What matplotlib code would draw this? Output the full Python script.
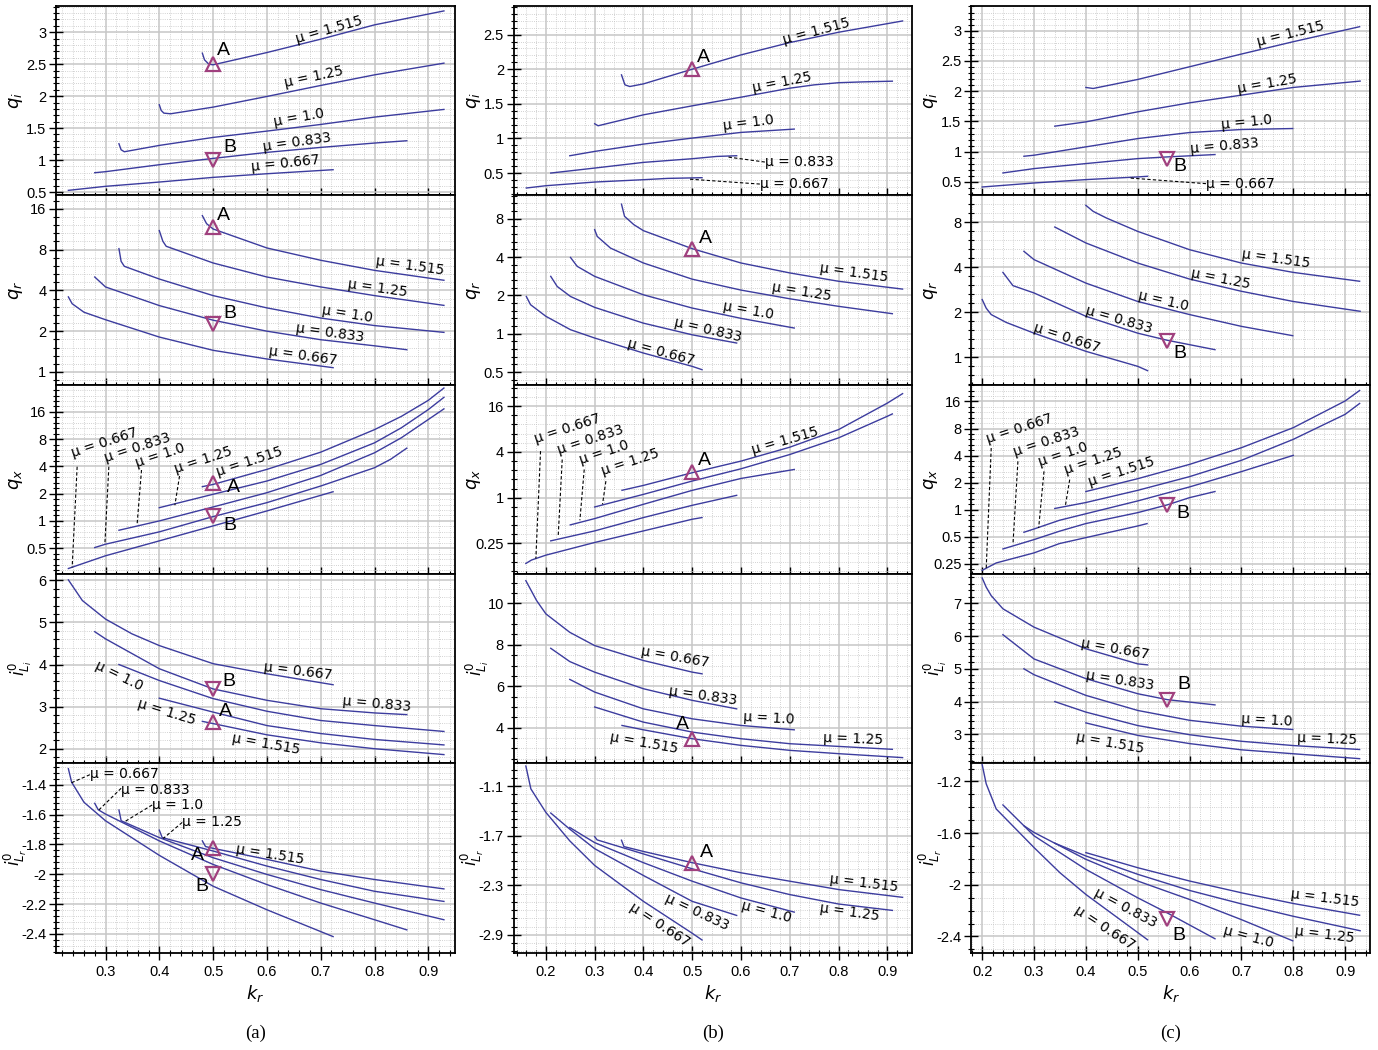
import matplotlib
matplotlib.use('Agg')
import matplotlib.pyplot as plt
from matplotlib.ticker import FixedLocator, FuncFormatter, AutoMinorLocator, MultipleLocator, NullFormatter
import numpy as np

plt.rcParams['axes.unicode_minus'] = False
plt.rcParams['mathtext.fontset'] = 'dejavusans'
plt.rcParams['font.family'] = ['Liberation Sans', 'DejaVu Sans']

LINE = '#3c3c9e'
MARK = '#a0407e'

MU = ['0.667', '0.833', '1.0', '1.25', '1.515']

# ---------------- column (a) ----------------
qi_a = {
    '0.667': ([0.231, 0.3, 0.4, 0.5, 0.6, 0.723], [0.526, 0.589, 0.656, 0.729, 0.786, 0.849]),
    '0.833': ([0.280, 0.3, 0.4, 0.5, 0.6, 0.7, 0.8, 0.860], [0.802, 0.818, 0.927, 1.026, 1.12, 1.198, 1.266, 1.302]),
    '1.0':   ([0.325, 0.329, 0.335, 0.4, 0.5, 0.6, 0.7, 0.8, 0.929], [1.255, 1.161, 1.13, 1.229, 1.354, 1.453, 1.557, 1.672, 1.792]),
    '1.25':  ([0.400, 0.4035, 0.4085, 0.421, 0.5, 0.6, 0.7, 0.8, 0.929], [1.865, 1.776, 1.734, 1.724, 1.828, 1.995, 2.167, 2.333, 2.516]),
    '1.515': ([0.480, 0.484, 0.492, 0.5, 0.6, 0.7, 0.8, 0.929], [2.672, 2.568, 2.5, 2.49, 2.682, 2.891, 3.115, 3.333]),
}
qr_a = {
    '0.667': ([0.231, 0.238, 0.26, 0.3, 0.4, 0.5, 0.6, 0.723], [3.58, 3.19, 2.76, 2.43, 1.81, 1.445, 1.247, 1.076]),
    '0.833': ([0.280, 0.3, 0.4, 0.5, 0.6, 0.7, 0.8, 0.860], [5.02, 4.24, 3.09, 2.41, 2.0, 1.73, 1.56, 1.46]),
    '1.0':   ([0.325, 0.329, 0.335, 0.4, 0.5, 0.6, 0.7, 0.8, 0.929], [8.13, 6.55, 6.02, 4.85, 3.66, 2.97, 2.50, 2.20, 1.96]),
    '1.25':  ([0.400, 0.4066, 0.4128, 0.5, 0.6, 0.7, 0.8, 0.929], [11.04, 9.21, 8.46, 6.37, 5.02, 4.24, 3.66, 3.10]),
    '1.515': ([0.480, 0.4878, 0.5, 0.6, 0.7, 0.8, 0.929], [14.24, 12.43, 11.35, 8.22, 6.67, 5.62, 4.75]),
}
qx_a = {
    '0.667': ([0.231, 0.3, 0.4, 0.5, 0.6, 0.723], [0.298, 0.412, 0.602, 0.881, 1.289, 2.10]),
    '0.833': ([0.280, 0.3, 0.4, 0.5, 0.6, 0.7, 0.8, 0.83, 0.860], [0.508, 0.553, 0.757, 1.116, 1.592, 2.43, 3.87, 4.8, 6.37]),
    '1.0':   ([0.325, 0.4, 0.5, 0.6, 0.7, 0.8, 0.85, 0.9, 0.929], [0.789, 1.0, 1.426, 2.05, 3.18, 5.66, 8.3, 13.2, 17.3]),
    '1.25':  ([0.400, 0.5, 0.6, 0.7, 0.8, 0.85, 0.9, 0.929], [1.40, 1.97, 2.76, 4.21, 7.29, 10.7, 17.0, 23.2]),
    '1.515': ([0.480, 0.5, 0.6, 0.7, 0.8, 0.85, 0.9, 0.929], [2.39, 2.53, 3.71, 5.75, 10.2, 14.3, 21.5, 29.4]),
}
ili_a = {
    '0.667': ([0.231, 0.257, 0.3, 0.349, 0.4, 0.5, 0.6, 0.723], [6.01, 5.52, 5.08, 4.73, 4.45, 4.02, 3.78, 3.52]),
    '0.833': ([0.280, 0.3, 0.4, 0.5, 0.6, 0.7, 0.8, 0.860], [4.78, 4.61, 3.90, 3.42, 3.15, 2.95, 2.85, 2.81]),
    '1.0':   ([0.325, 0.4, 0.5, 0.6, 0.7, 0.8, 0.929], [4.0, 3.62, 3.19, 2.89, 2.67, 2.55, 2.41]),
    '1.25':  ([0.400, 0.5, 0.6, 0.7, 0.8, 0.929], [3.20, 2.87, 2.55, 2.36, 2.22, 2.09]),
    '1.515': ([0.480, 0.6, 0.7, 0.8, 0.929], [2.65, 2.33, 2.14, 2.0, 1.86]),
}
ilr_a = {
    '0.667': ([0.231, 0.237, 0.26, 0.3, 0.4, 0.5, 0.6, 0.723], [-1.292, -1.382, -1.517, -1.641, -1.873, -2.08, -2.238, -2.418]),
    '0.833': ([0.280, 0.2864, 0.3, 0.4, 0.5, 0.6, 0.7, 0.8, 0.860], [-1.524, -1.567, -1.596, -1.776, -1.934, -2.069, -2.193, -2.305, -2.373]),
    '1.0':   ([0.325, 0.3291, 0.4, 0.5, 0.6, 0.7, 0.8, 0.929], [-1.569, -1.641, -1.754, -1.889, -2.001, -2.103, -2.193, -2.305]),
    '1.25':  ([0.400, 0.4054, 0.5, 0.6, 0.7, 0.8, 0.929], [-1.704, -1.754, -1.844, -1.945, -2.035, -2.114, -2.182]),
    '1.515': ([0.480, 0.4859, 0.5, 0.6, 0.7, 0.8, 0.929], [-1.776, -1.814, -1.826, -1.9, -1.979, -2.035, -2.098]),
}

# ---------------- column (b) ----------------
qi_b = {
    '0.667': ([0.160, 0.2, 0.3, 0.4, 0.45, 0.5, 0.520], [0.284, 0.317, 0.370, 0.404, 0.423, 0.430, 0.433]),
    '0.833': ([0.210, 0.3, 0.4, 0.5, 0.55, 0.591], [0.50, 0.572, 0.654, 0.707, 0.74, 0.75]),
    '1.0':   ([0.249, 0.3, 0.4, 0.5, 0.6, 0.709], [0.75, 0.8125, 0.918, 1.005, 1.087, 1.135]),
    '1.25':  ([0.300, 0.307, 0.4, 0.5, 0.6, 0.7, 0.75, 0.8, 0.85, 0.910], [1.212, 1.183, 1.341, 1.471, 1.596, 1.726, 1.774, 1.805, 1.817, 1.827]),
    '1.515': ([0.355, 0.362, 0.372, 0.4, 0.5, 0.6, 0.7, 0.8, 0.931], [1.918, 1.774, 1.75, 1.788, 2.0, 2.207, 2.385, 2.534, 2.697]),
}
qr_b = {
    '0.667': ([0.160, 0.1686, 0.2, 0.2505, 0.3, 0.4, 0.5, 0.520], [1.96, 1.69, 1.37, 1.075, 0.925, 0.705, 0.554, 0.522]),
    '0.833': ([0.210, 0.2232, 0.2505, 0.3, 0.4, 0.5, 0.591], [2.82, 2.35, 1.96, 1.61, 1.21, 0.98, 0.845]),
    '1.0':   ([0.2505, 0.2642, 0.3, 0.4, 0.5, 0.6, 0.709], [3.97, 3.38, 2.82, 2.02, 1.59, 1.32, 1.108]),
    '1.25':  ([0.300, 0.3052, 0.3325, 0.4, 0.5, 0.6, 0.7, 0.8, 0.910], [6.56, 5.81, 4.7, 3.59, 2.68, 2.2, 1.88, 1.64, 1.436]),
    '1.515': ([0.355, 0.3612, 0.3803, 0.4, 0.5, 0.6, 0.7, 0.8, 0.931], [10.4, 8.35, 7.18, 6.44, 4.65, 3.59, 3.0, 2.58, 2.24]),
}
qx_b = {
    '0.667': ([0.159, 0.1706, 0.2, 0.3, 0.4, 0.5, 0.520], [0.136, 0.151, 0.175, 0.257, 0.365, 0.52, 0.547]),
    '0.833': ([0.210, 0.3, 0.4, 0.5, 0.591], [0.27, 0.365, 0.547, 0.793, 1.073]),
    '1.0':   ([0.250, 0.3, 0.4, 0.5, 0.6, 0.709], [0.438, 0.53, 0.818, 1.248, 1.79, 2.35]),
    '1.25':  ([0.300, 0.4, 0.5, 0.6, 0.7, 0.8, 0.9, 0.910], [0.754, 1.105, 1.655, 2.40, 3.70, 6.13, 11.8, 12.65]),
    '1.515': ([0.356, 0.4, 0.5, 0.6, 0.7, 0.8, 0.9, 0.931], [1.25, 1.45, 2.13, 3.03, 4.62, 7.88, 17.6, 23.4]),
}
ili_b = {
    '0.667': ([0.159, 0.181, 0.2, 0.249, 0.3, 0.4, 0.5, 0.520], [11.09, 10.13, 9.49, 8.60, 7.96, 7.24, 6.68, 6.60]),
    '0.833': ([0.210, 0.249, 0.3, 0.4, 0.5, 0.591], [7.83, 7.19, 6.68, 5.88, 5.32, 4.91]),
    '1.0':   ([0.249, 0.3, 0.4, 0.5, 0.6, 0.709], [6.33, 5.72, 4.91, 4.43, 4.11, 3.90]),
    '1.25':  ([0.300, 0.4, 0.5, 0.6, 0.7, 0.8, 0.910], [5.0, 4.27, 3.79, 3.47, 3.23, 3.10, 2.96]),
    '1.515': ([0.356, 0.4, 0.5, 0.6, 0.7, 0.8, 0.931], [4.11, 3.90, 3.47, 3.15, 2.91, 2.75, 2.56]),
}
ilr_b = {
    '0.667': ([0.159, 0.1693, 0.2, 0.249, 0.3, 0.4, 0.5, 0.520], [-0.856, -1.133, -1.417, -1.762, -2.059, -2.494, -2.88, -2.961]),
    '0.833': ([0.210, 0.249, 0.3, 0.4, 0.5, 0.591], [-1.425, -1.62, -1.856, -2.181, -2.494, -2.664]),
    '1.0':   ([0.249, 0.3, 0.4, 0.5, 0.6, 0.709], [-1.6, -1.783, -2.026, -2.25, -2.453, -2.624]),
    '1.25':  ([0.300, 0.305, 0.4, 0.5, 0.6, 0.7, 0.8, 0.910], [-1.71, -1.75, -1.92, -2.1, -2.27, -2.412, -2.526, -2.603]),
    '1.515': ([0.355, 0.360, 0.4, 0.5, 0.6, 0.7, 0.8, 0.931], [-1.754, -1.831, -1.89, -2.026, -2.148, -2.25, -2.351, -2.445]),
}

# ---------------- column (c) ----------------
qi_c = {
    '0.667': ([0.200, 0.3, 0.4, 0.5, 0.519], [0.417, 0.483, 0.539, 0.583, 0.594]),
    '0.833': ([0.240, 0.3, 0.4, 0.5, 0.557, 0.649], [0.649, 0.721, 0.804, 0.886, 0.914, 0.953]),
    '1.0':   ([0.2805, 0.3, 0.4, 0.5, 0.6, 0.7, 0.799], [0.925, 0.942, 1.08, 1.217, 1.317, 1.367, 1.383]),
    '1.25':  ([0.340, 0.4, 0.5, 0.6, 0.7, 0.8, 0.929], [1.422, 1.493, 1.659, 1.808, 1.935, 2.062, 2.167]),
    '1.515': ([0.400, 0.414, 0.5, 0.6, 0.7, 0.8, 0.928], [2.062, 2.045, 2.194, 2.404, 2.614, 2.818, 3.066]),
}
qr_c = {
    '0.667': ([0.200, 0.2077, 0.2174, 0.2464, 0.3, 0.4, 0.5, 0.519], [2.43, 2.13, 1.93, 1.71, 1.45, 1.097, 0.871, 0.815]),
    '0.833': ([0.240, 0.2593, 0.3, 0.4, 0.5, 0.557, 0.649], [3.69, 3.01, 2.69, 1.88, 1.45, 1.30, 1.125]),
    '1.0':   ([0.2805, 0.3, 0.4, 0.5, 0.6, 0.7, 0.799], [5.1, 4.49, 3.13, 2.36, 1.93, 1.61, 1.395]),
    '1.25':  ([0.340, 0.4, 0.5, 0.6, 0.7, 0.8, 0.929], [7.41, 5.8, 4.26, 3.33, 2.76, 2.36, 2.03]),
    '1.515': ([0.400, 0.414, 0.44, 0.5, 0.6, 0.7, 0.8, 0.928], [10.34, 9.43, 8.5, 6.93, 5.23, 4.26, 3.69, 3.22]),
}
qx_c = {
    '0.667': ([0.200, 0.227, 0.3, 0.349, 0.4, 0.5, 0.518], [0.211, 0.255, 0.33, 0.419, 0.488, 0.658, 0.699]),
    '0.833': ([0.240, 0.3, 0.349, 0.4, 0.5, 0.557, 0.6, 0.649], [0.365, 0.464, 0.575, 0.70, 0.926, 1.13, 1.36, 1.59]),
    '1.0':   ([0.2805, 0.3, 0.349, 0.4, 0.5, 0.6, 0.7, 0.8], [0.56, 0.609, 0.761, 0.90, 1.25, 1.79, 2.65, 4.02]),
    '1.25':  ([0.340, 0.4, 0.5, 0.6, 0.7, 0.8, 0.9, 0.928], [1.03, 1.2, 1.64, 2.33, 3.54, 6.06, 11.5, 15.2]),
    '1.515': ([0.400, 0.5, 0.6, 0.7, 0.8, 0.9, 0.928], [1.59, 2.21, 3.19, 4.89, 8.17, 16.2, 21.2]),
}
ili_c = {
    '0.667': ([0.200, 0.2077, 0.2174, 0.24, 0.3, 0.4, 0.5, 0.519], [7.77, 7.49, 7.23, 6.83, 6.27, 5.61, 5.15, 5.12]),
    '0.833': ([0.240, 0.3, 0.4, 0.5, 0.557, 0.649], [6.04, 5.30, 4.70, 4.24, 4.06, 3.90]),
    '1.0':   ([0.2805, 0.3, 0.4, 0.5, 0.6, 0.7, 0.799], [5.0, 4.82, 4.19, 3.73, 3.43, 3.25, 3.15]),
    '1.25':  ([0.340, 0.4, 0.5, 0.6, 0.7, 0.8, 0.928], [4.0, 3.68, 3.27, 2.99, 2.79, 2.66, 2.54]),
    '1.515': ([0.400, 0.5, 0.6, 0.7, 0.8, 0.928], [3.35, 2.97, 2.72, 2.53, 2.41, 2.26]),
}
ilr_c = {
    '0.667': ([0.200, 0.2077, 0.227, 0.3, 0.35, 0.4, 0.519], [-1.07, -1.218, -1.413, -1.712, -1.907, -2.075, -2.426]),
    '0.833': ([0.240, 0.3, 0.4, 0.5, 0.557, 0.649], [-1.382, -1.621, -1.881, -2.101, -2.218, -2.418]),
    '1.0':   ([0.2805, 0.3, 0.4, 0.5, 0.6, 0.7, 0.799], [-1.543, -1.595, -1.803, -1.971, -2.114, -2.27, -2.434]),
    '1.25':  ([0.340, 0.4, 0.5, 0.6, 0.7, 0.8, 0.929], [-1.678, -1.777, -1.919, -2.044, -2.148, -2.244, -2.356]),
    '1.515': ([0.400, 0.5, 0.6, 0.7, 0.8, 0.928], [-1.751, -1.868, -1.971, -2.062, -2.145, -2.236]),
}

# operating points (one value per row: qi, qr, qx, iLi, iLr)
kr_A_a, A_a = 0.5, [2.5, 11.68, 2.64, 2.63, -1.821]
kr_B_a, B_a = 0.5, [1.0, 2.26, 1.135, 3.43, -1.997]
kr_A_b, A_b = 0.5, [2.0, 4.65, 2.17, 3.47, -2.026]
kr_B_c, B_c = 0.557, [0.886, 1.28, 1.12, 4.04, -2.265]

YLABELS = [r'$q_i$', r'$q_r$', r'$q_x$', r'$i^{\mathit{0}}_{L_i}$', r'$i^{\mathit{0}}_{L_r}$']
YLAB_X = [-0.1, -0.1, -0.1, -0.09, -0.103]
CAPTIONS = ['(a)', '(b)', '(c)']

data = [[qi_a, qi_b, qi_c], [qr_a, qr_b, qr_c], [qx_a, qx_b, qx_c],
        [ili_a, ili_b, ili_c], [ilr_a, ilr_b, ilr_c]]

xlims = [(0.208, 0.949), (0.134, 0.951), (0.179, 0.948)]
# (ylim, major ticks, log?, minor subdivisions)
axcfg = [
    [((0.448, 3.41), [0.5, 1, 1.5, 2, 2.5, 3], False, 5),
     ((0.178, 2.913), [0.5, 1, 1.5, 2, 2.5], False, 5),
     ((0.279, 3.408), [0.5, 1, 1.5, 2, 2.5, 3], False, 5)],
    [((0.806, 20.1), [1, 2, 4, 8, 16], True, 5),
     ((0.398, 12.2), [0.5, 1, 2, 4, 8], True, 5),
     ((0.657, 12.06), [1, 2, 4, 8], True, 5)],
    [((0.259, 32), [0.5, 1, 2, 4, 8, 16], True, 5),
     ((0.0988, 30.7), [0.25, 1, 4, 16], True, 5),
     ((0.192, 24.6), [0.25, 0.5, 1, 2, 4, 8, 16], True, 5)],
    [((1.652, 6.15), [2, 3, 4, 5, 6], False, 5),
     ((2.283, 11.41), [4, 6, 8, 10], False, 4),
     ((2.117, 7.89), [3, 4, 5, 6, 7], False, 5)],
    [((-2.526, -1.256), [-2.4, -2.2, -2, -1.8, -1.6, -1.4], False, 5),
     ((-3.115, -0.824), [-2.9, -2.3, -1.7, -1.1], False, 6),
     ((-2.526, -1.06), [-2.4, -2, -1.6, -1.2], False, 4)],
]


def M(s, x, y, rot):
    return ('mu', s, x, y, rot, 'center', 'center')


def ML(s, x, y, rot=18):
    return ('mu', s, x, y, rot, 'left', 'bottom')


def MC(s, x, y):
    return ('mu', s, x, y, 0, 'left', 'center')


def L(x0, y0, x1, y1):
    return ('lead', x0, y0, x1, y1)


def T(s, x, y):
    return ('let', s, x, y)


notes = [
    # row 0: q_i
    [[M('1.515', 0.7153, 3.036, 16), M('1.25', 0.6874, 2.297, 12), M('1.0', 0.6595, 1.656, 10),
      M('0.833', 0.6564, 1.281, 8), M('0.667', 0.6347, 0.943, 6), T('A', 0.52, 2.714), T('B', 0.5306, 1.203)],
     [M('1.515', 0.7546, 2.543, 15), M('1.25', 0.6843, 1.8125, 11), M('1.0', 0.616, 1.221, 7),
      MC('0.833', 0.6488, 0.659), L(0.6488, 0.659, 0.5736, 0.731),
      MC('0.667', 0.6385, 0.341), L(0.6385, 0.341, 0.4917, 0.413), T('A', 0.5224, 2.173)],
     [M('1.515', 0.7954, 2.945, 14), M('1.25', 0.7496, 2.128, 10), M('1.0', 0.7103, 1.482, 6),
      M('0.833', 0.6684, 1.096, 5), MC('0.667', 0.6317, 0.472), L(0.6317, 0.472, 0.4835, 0.566),
      T('B', 0.5814, 0.748)]],
    # row 1: q_r
    [[M('1.515', 0.8659, 6.02, -8), M('1.25', 0.8064, 4.17, -8), M('1.0', 0.7494, 2.69, -9),
      M('0.833', 0.7165, 1.94, -8), M('0.667', 0.6669, 1.32, -8), T('A', 0.52, 14.3), T('B', 0.5306, 2.69)],
     [M('1.515', 0.8311, 3.0, -8), M('1.25', 0.7239, 2.15, -9), M('1.0', 0.6146, 1.525, -10),
      M('0.833', 0.5327, 1.075, -13), M('0.667', 0.435, 0.72, -15), T('A', 0.5272, 5.57)],
     [M('1.515', 0.7664, 4.56, -8), M('1.25', 0.6594, 3.32, -11), M('1.0', 0.5492, 2.39, -13),
      M('0.833', 0.4629, 1.79, -16), M('0.667', 0.3637, 1.35, -18), T('B', 0.5821, 1.06)]],
    # row 2: q_x
    [[ML('0.667', 0.2411, 4.66), L(0.2473, 3.97, 0.238, 0.306),
      ML('0.833', 0.3019, 4.10), L(0.3062, 3.97, 0.2988, 0.553),
      ML('1.0', 0.3607, 3.65), L(0.3669, 3.65, 0.3589, 0.943),
      ML('1.25', 0.432, 3.13), L(0.4376, 3.13, 0.4289, 1.49),
      ML('1.515', 0.5107, 2.88), T('A', 0.5386, 2.33), T('B', 0.5312, 0.881)],
     [ML('0.667', 0.1809, 4.76), L(0.1891, 4.1, 0.1795, 0.158),
      ML('0.833', 0.2287, 3.45), L(0.2335, 3.18, 0.2253, 0.314),
      ML('1.0', 0.2731, 2.55), L(0.2786, 2.35, 0.2697, 0.504),
      ML('1.25', 0.3189, 1.79), L(0.323, 1.65, 0.3161, 0.818),
      M('1.515', 0.6911, 5.54, 16), T('A', 0.5258, 3.12)],
     [ML('0.667', 0.2122, 5.15), L(0.2174, 4.85, 0.2077, 0.219),
      ML('0.833', 0.2644, 3.66), L(0.2689, 3.45, 0.2593, 0.408),
      ML('1.0', 0.314, 2.83), L(0.3192, 2.67, 0.3089, 0.625),
      ML('1.25', 0.3643, 2.31), L(0.3688, 2.16, 0.3604, 1.1),
      ML('1.515', 0.4107, 1.70), T('B', 0.5872, 0.903)]],
    # row 3: i_Li
    [[M('0.667', 0.6576, 3.84, -7), M('0.833', 0.8039, 3.07, -5), M('1.0', 0.326, 3.72, -26),
      M('1.25', 0.4128, 2.87, -17), M('1.515', 0.5975, 2.12, -10), T('A', 0.5231, 2.89), T('B', 0.5293, 3.60)],
     [M('0.667', 0.4657, 7.40, -10), M('0.833', 0.5224, 5.56, -8), M('1.0', 0.6577, 4.43, -3),
      M('1.25', 0.8298, 3.44, -2), M('1.515', 0.4022, 3.26, -10), T('A', 0.48, 4.14)],
     [M('0.667', 0.4558, 5.60, -10), M('0.833', 0.4661, 4.64, -9), M('1.0', 0.7496, 3.44, -3),
      M('1.25', 0.865, 2.85, -2), M('1.515', 0.4474, 2.75, -10), T('B', 0.5892, 4.52)]],
    # row 4: i_Lr
    [[MC('0.667', 0.2709, -1.326), L(0.2709, -1.332, 0.2368, -1.386),
      MC('0.833', 0.3291, -1.432), L(0.3291, -1.423, 0.2864, -1.573),
      MC('1.0', 0.3868, -1.537), L(0.3868, -1.535, 0.3353, -1.648),
      MC('1.25', 0.4426, -1.65), L(0.4426, -1.652, 0.4072, -1.76),
      M('1.515', 0.6056, -1.866, -9), T('A', 0.4705, -1.877), T('B', 0.4785, -2.08)],
     [M('1.515', 0.8516, -2.27, -7), M('1.25', 0.8216, -2.624, -8), M('1.0', 0.6522, -2.624, -15),
      M('0.833', 0.5108, -2.628, -25), M('0.667', 0.4336, -2.778, -33), T('A', 0.5292, -1.905)],
     [M('1.515', 0.8617, -2.106, -7), M('1.25', 0.8604, -2.387, -7), M('1.0', 0.7135, -2.40, -15),
      M('0.833', 0.4764, -2.179, -28), M('0.667', 0.4365, -2.335, -33), T('B', 0.5795, -2.392)]],
]


def log_minor(ticks, n, lo, hi):
    e = np.log2(ticks)
    step = e[1] - e[0]
    out = []
    k = e[0] - 4 * step
    while k < e[-1] + 4 * step:
        for j in range(1, n):
            v = 2 ** (k + j * step / n)
            if lo < v < hi:
                out.append(v)
        k += step
    return out


fmt = FuncFormatter(lambda v, p: '%g' % v)

fig, axes = plt.subplots(5, 3, figsize=(13.78, 10.5), dpi=100)
fig.subplots_adjust(left=56 / 1378, right=1370 / 1378, top=1 - 6 / 1050,
                    bottom=1 - 952.7 / 1050, wspace=59 / 399, hspace=0)

for r in range(5):
    for c in range(3):
        ax = axes[r][c]
        ylim, ticks, logy, nmin = axcfg[r][c]
        if logy:
            ax.set_yscale('log', base=2)
        ax.set_xlim(*xlims[c])
        ax.set_ylim(*ylim)
        ax.yaxis.set_major_locator(FixedLocator(ticks))
        ax.yaxis.set_major_formatter(fmt)
        if logy:
            ax.yaxis.set_minor_locator(FixedLocator(log_minor(ticks, nmin, *ylim)))
        else:
            ax.yaxis.set_minor_locator(AutoMinorLocator(nmin))
        ax.yaxis.set_minor_formatter(NullFormatter())
        ax.xaxis.set_major_locator(MultipleLocator(0.1))
        ax.xaxis.set_minor_locator(MultipleLocator(0.02))
        ax.xaxis.set_major_formatter(fmt)
        if r < 4:
            ax.tick_params(axis='x', labelbottom=False)
        ax.set_axisbelow(True)
        ax.grid(True, which='major', color='#c6c6c6', lw=1.1)
        ax.grid(True, which='minor', color='#c4c4c4', lw=0.6, ls=(0, (1, 1.6)))
        ax.tick_params(which='both', direction='inout', top=False, right=False, labelsize=10.5)
        ax.tick_params(which='major', length=10, width=1.0)
        ax.tick_params(which='minor', length=5, width=0.8)
        ax.tick_params(axis='y', pad=2)
        ax.tick_params(axis='x', pad=4)
        for sp in ax.spines.values():
            sp.set_linewidth(1.3)

        for m in MU:
            xs, ys = data[r][c][m]
            ax.plot(xs, ys, color=LINE, lw=1.0, zorder=3)

        for n in notes[r][c]:
            if n[0] == 'mu':
                _, s, x, y, rot, ha, va = n
                ax.text(x, y, '\u03bc = ' + s, rotation=rot, ha=ha, va=va,
                        rotation_mode='anchor', fontsize=10, family='DejaVu Sans', zorder=6)
            elif n[0] == 'lead':
                _, x0, y0, x1, y1 = n
                ax.plot([x0, x1], [y0, y1], color='black', lw=0.8, ls=(0, (3, 2)), zorder=4)
            else:
                _, s, x, y = n
                ax.text(x, y, s, ha='center', va='center', fontsize=14, zorder=6)

        ax.set_ylabel(YLABELS[r], fontsize=13 if r < 3 else 12)
        ax.yaxis.label.set_va('center')
        ax.yaxis.set_label_coords(YLAB_X[r], 0.5)

    # operating points
    axes[r][0].plot([kr_A_a], [A_a[r]], marker='^', ms=10, mfc='none', mec=MARK, mew=1.6, ls='none', zorder=5)
    axes[r][0].plot([kr_B_a], [B_a[r]], marker='v', ms=10, mfc='none', mec=MARK, mew=1.6, ls='none', zorder=5)
    axes[r][1].plot([kr_A_b], [A_b[r]], marker='^', ms=10, mfc='none', mec=MARK, mew=1.6, ls='none', zorder=5)
    axes[r][2].plot([kr_B_c], [B_c[r]], marker='v', ms=10, mfc='none', mec=MARK, mew=1.6, ls='none', zorder=5)

for c in range(3):
    ax = axes[4][c]
    ax.set_xlabel(r'$k_r$', fontsize=13)
    ax.xaxis.label.set_va('center')
    ax.xaxis.set_label_coords(0.5, -0.213)
    pos = ax.get_position()
    fig.text((pos.x0 + pos.x1) / 2, 1 - 1033 / 1050, CAPTIONS[c], ha='center', va='center',
             family='Liberation Serif', fontsize=13.5)

fig.savefig('out.png', dpi=100)
